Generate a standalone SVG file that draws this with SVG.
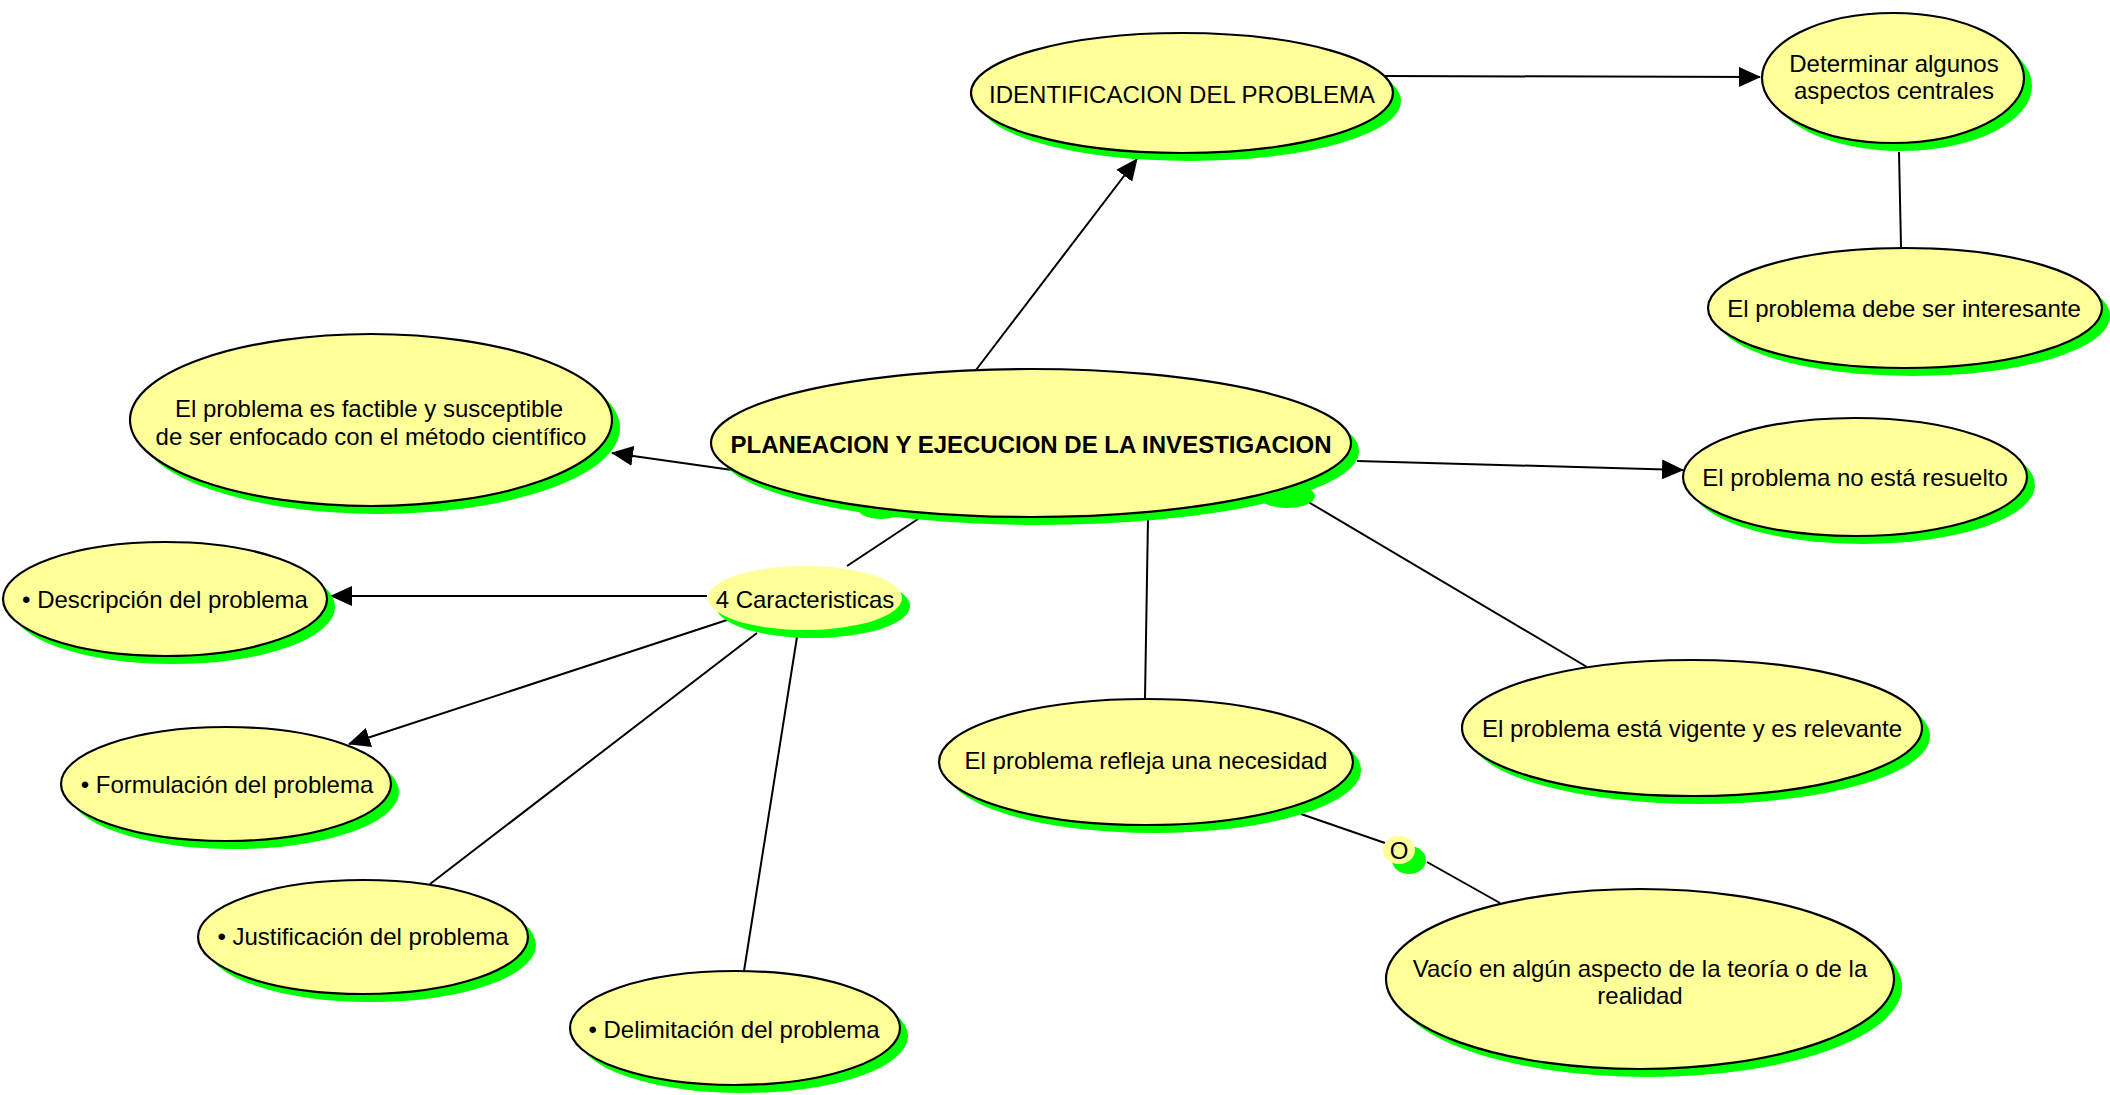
<svg xmlns="http://www.w3.org/2000/svg" width="2110" height="1095" viewBox="0 0 2110 1095">
<defs>
<style>
.sh{fill:#00FF00;stroke:none}
.nd{fill:#FFFF99;stroke:#000;stroke-width:2.2}
.nn{fill:#FFFF99;stroke:none}
.t{font-family:"Liberation Sans",Arial,sans-serif;font-size:24px;fill:#000;text-anchor:middle}
.b{font-weight:bold}
.c{stroke:#000;stroke-width:2;fill:none}
</style>
<marker id="ar" markerUnits="userSpaceOnUse" markerWidth="22" markerHeight="20" refX="21" refY="10" orient="auto">
<path d="M0,0 L22,10 L0,20 z" fill="#000"/>
</marker>
</defs>
<rect width="2110" height="1095" fill="#fff"/>
<g id="connectors">
<line class="c" x1="976" y1="370" x2="1137" y2="159" marker-end="url(#ar)"/>
<line class="c" x1="1385" y1="76" x2="1760" y2="77" marker-end="url(#ar)"/>
<line class="c" x1="1899" y1="152" x2="1901" y2="247"/>
<line class="c" x1="1357" y1="461" x2="1683" y2="470" marker-end="url(#ar)"/>
<line class="c" x1="732" y1="470" x2="612" y2="453" marker-end="url(#ar)"/>
<line class="c" x1="918" y1="519" x2="847" y2="566"/>
<line class="c" x1="707" y1="596" x2="331" y2="596" marker-end="url(#ar)"/>
<line class="c" x1="727" y1="620" x2="349" y2="744" marker-end="url(#ar)"/>
<line class="c" x1="757" y1="633" x2="430" y2="884"/>
<line class="c" x1="797" y1="637" x2="744" y2="971"/>
<line class="c" x1="1148" y1="518" x2="1145" y2="698"/>
<line class="c" x1="1305" y1="500" x2="1587" y2="667"/>
<line class="c" x1="1301" y1="814" x2="1385" y2="843"/>
<line class="c" x1="1427" y1="862" x2="1500" y2="903"/>
</g>
<g id="n-central">
<ellipse class="sh" cx="881" cy="510" rx="22" ry="9"/>
<ellipse class="sh" cx="1287" cy="496" rx="28" ry="12"/>
<ellipse class="sh" cx="1039" cy="451" rx="320" ry="74"/>
<ellipse class="nd" cx="1031" cy="443" rx="320" ry="74"/>
<text class="t b" x="1031" y="453">PLANEACION Y EJECUCION DE LA INVESTIGACION</text>
</g>
<g id="n-identificacion">
<ellipse class="sh" cx="1190" cy="101" rx="211" ry="60"/>
<ellipse class="nd" cx="1182" cy="93" rx="211" ry="60"/>
<text class="t" x="1182" y="103">IDENTIFICACION DEL PROBLEMA</text>
</g>
<g id="n-determinar">
<ellipse class="sh" cx="1901" cy="86" rx="131" ry="65"/>
<ellipse class="nd" cx="1893" cy="78" rx="131" ry="65"/>
<text class="t" x="1894" y="72">Determinar algunos</text>
<text class="t" x="1894" y="99">aspectos centrales</text>
</g>
<g id="n-interesante">
<ellipse class="sh" cx="1913" cy="316" rx="197" ry="60"/>
<ellipse class="nd" cx="1905" cy="308" rx="197" ry="60"/>
<text class="t" x="1904" y="317">El problema debe ser interesante</text>
</g>
<g id="n-resuelto">
<ellipse class="sh" cx="1863" cy="485" rx="172" ry="59"/>
<ellipse class="nd" cx="1855" cy="477" rx="172" ry="59"/>
<text class="t" x="1855" y="486">El problema no está resuelto</text>
</g>
<g id="n-factible">
<ellipse class="sh" cx="379" cy="428" rx="241" ry="86"/>
<ellipse class="nd" cx="371" cy="420" rx="241" ry="86"/>
<text class="t" x="369" y="417">El problema es factible y susceptible</text>
<text class="t" x="371" y="445">de ser enfocado con el método científico</text>
</g>
<g id="n-descripcion">
<ellipse class="sh" cx="173" cy="607" rx="162" ry="57"/>
<ellipse class="nd" cx="165" cy="599" rx="162" ry="57"/>
<text class="t" x="165" y="608">• Descripción del problema</text>
</g>
<g id="n-caracteristicas">
<ellipse class="sh" cx="813" cy="606" rx="97" ry="32"/>
<ellipse class="nn" cx="805" cy="598" rx="97" ry="32"/>
<text class="t" x="805" y="608">4 Caracteristicas</text>
</g>
<g id="n-formulacion">
<ellipse class="sh" cx="234" cy="792" rx="165" ry="57"/>
<ellipse class="nd" cx="226" cy="784" rx="165" ry="57"/>
<text class="t" x="227" y="793">• Formulación del problema</text>
</g>
<g id="n-justificacion">
<ellipse class="sh" cx="371" cy="945" rx="165" ry="57"/>
<ellipse class="nd" cx="363" cy="937" rx="165" ry="57"/>
<text class="t" x="363" y="945">• Justificación del problema</text>
</g>
<g id="n-delimitacion">
<ellipse class="sh" cx="743" cy="1036" rx="165" ry="57"/>
<ellipse class="nd" cx="735" cy="1028" rx="165" ry="57"/>
<text class="t" x="734" y="1038">• Delimitación del problema</text>
</g>
<g id="n-refleja">
<ellipse class="sh" cx="1154" cy="770" rx="207" ry="63"/>
<ellipse class="nd" cx="1146" cy="762" rx="207" ry="63"/>
<text class="t" x="1146" y="769">El problema refleja una necesidad</text>
</g>
<g id="n-vigente">
<ellipse class="sh" cx="1700" cy="736" rx="230" ry="68"/>
<ellipse class="nd" cx="1692" cy="728" rx="230" ry="68"/>
<text class="t" x="1692" y="737">El problema está vigente y es relevante</text>
</g>
<g id="n-o">
<ellipse class="sh" cx="1409" cy="860" rx="17" ry="14"/>
<ellipse class="nn" cx="1399" cy="850" rx="16" ry="14"/>
<text class="t" x="1399" y="859">O</text>
</g>
<g id="n-vacio">
<ellipse class="sh" cx="1648" cy="987" rx="254" ry="90"/>
<ellipse class="nd" cx="1640" cy="979" rx="254" ry="90"/>
<text class="t" x="1640" y="977">Vacío en algún aspecto de la teoría o de la</text>
<text class="t" x="1640" y="1004">realidad</text>
</g>
</svg>
